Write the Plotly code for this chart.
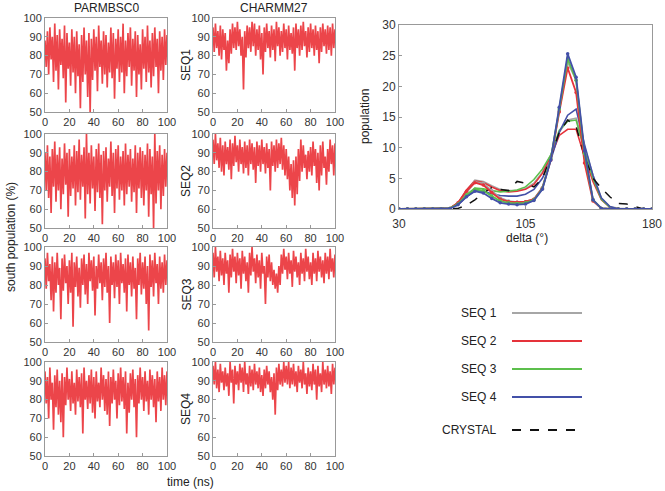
import plotly.graph_objects as go

W, H = 665, 491

# ---------------- data ----------------
time_ns = list(range(0, 101))

bsc0_seq1 = [88,74,93,70,95,78,90,66,97,72,91,62,94,75,89,68,96,55,92,73,
             87,64,94,71,90,60,93,69,86,52,91,66,95,70,88,58,92,50,89,67,
             94,72,90,61,96,74,88,65,93,70,91,63,87,71,95,68,92,57,89,73,
             94,66,90,71,97,60,88,69,92,74,95,64,89,72,93,58,91,70,86,62,
             94,73,90,66,96,71,88,63,92,69,95,74,89,60,93,72,90,67,94,75,91]
charmm_seq1 = [95,82,97,84,93,80,96,78,94,83,92,72,88,76,94,81,97,84,95,83,
               98,85,94,80,90,62,93,79,96,84,95,82,98,85,97,80,94,83,96,78,
               92,70,95,82,97,84,93,79,96,83,94,77,98,85,95,80,93,82,97,84,
               94,78,96,83,92,81,95,72,97,84,94,80,96,83,98,85,93,79,95,82,
               97,84,94,80,96,83,93,76,95,82,97,85,94,81,96,83,95,80,97,84,94]
bsc0_seq2 = [90,70,94,66,88,58,92,72,96,64,89,70,93,60,87,68,95,73,90,56,
             92,67,88,71,94,62,91,69,97,65,89,72,93,55,100,68,90,63,94,71,
             88,59,92,69,95,66,89,52,91,70,93,64,87,72,96,67,90,58,92,71,
             94,65,88,70,91,62,95,68,89,72,92,64,87,69,94,58,90,71,93,66,
             91,62,89,70,95,56,92,68,88,50,100,63,91,70,94,60,89,67,92,72,90]
charmm_seq2 = [97,84,100,86,95,82,98,80,94,78,96,84,93,81,97,76,95,83,99,85,
               94,80,97,84,93,79,96,82,94,78,97,84,95,81,93,74,96,83,94,80,
               97,84,93,79,95,82,92,70,96,83,94,80,97,82,95,84,98,81,94,78,
               92,76,88,70,84,66,86,62,88,68,92,75,97,80,94,82,89,76,91,80,
               93,78,96,83,92,74,90,70,94,78,96,82,88,73,92,80,97,84,94,78,95]
bsc0_seq3 = [94,78,97,82,91,72,95,66,92,76,97,80,89,62,94,77,96,81,90,70,
             93,76,97,58,92,79,95,74,89,68,94,80,96,75,91,70,97,82,93,77,
             95,64,90,78,96,81,92,72,94,79,97,76,90,60,95,80,92,73,96,79,
             93,70,97,81,91,76,94,66,96,80,92,74,95,78,89,62,94,80,97,75,
             92,78,95,70,90,56,96,79,93,74,97,81,91,70,95,78,92,76,96,80,93]
charmm_seq3 = [97,84,100,87,95,82,98,85,94,80,97,86,93,76,96,84,99,87,95,81,
               97,85,94,78,98,86,95,82,92,76,97,85,100,87,94,81,96,84,93,78,
               97,86,90,70,95,84,96,82,92,80,88,78,86,76,90,80,96,86,99,88,
               95,83,97,86,93,79,98,87,95,84,92,80,97,86,94,82,99,87,95,83,
               92,80,97,86,94,82,98,87,95,84,93,81,97,86,95,83,99,87,94,84,96]
bsc0_seq4 = [95,78,92,70,97,80,89,64,93,76,96,72,90,68,94,60,92,77,97,80,
             91,74,95,78,89,72,96,79,92,76,94,62,97,80,90,75,93,78,96,73,
             92,70,95,79,89,76,97,80,93,74,91,72,95,66,92,78,96,80,90,70,
             94,77,97,79,92,75,95,62,89,73,94,80,96,76,91,60,93,78,97,80,
             92,74,95,79,90,72,96,80,93,76,91,68,95,79,92,74,97,80,93,77,95]
charmm_seq4 = [98,88,100,86,96,84,99,89,95,85,97,87,94,82,100,89,96,78,98,88,
               95,85,99,89,97,84,100,88,94,83,98,87,96,85,99,88,95,86,97,84,
               93,82,96,86,98,88,95,84,92,80,94,72,97,85,99,88,96,87,100,89,
               98,88,100,86,97,88,99,87,95,84,98,89,96,86,100,88,94,83,97,87,
               95,85,99,88,96,80,98,87,94,84,100,88,96,86,98,87,95,83,99,88,97]

seq_labels = ["SEQ1", "SEQ2", "SEQ3", "SEQ4"]

delta_deg = list(range(30, 181, 5))
# set with markers (tall peak)
popA_seq1 = [0,0,0,0,0,0,0.1,0.9,2.6,4.4,4.2,3.0,1.8,1.3,1.1,1.2,1.6,3.5,8.2,16.0,24.0,21.0,9.0,1.5,0.1,0,0,0,0,0,0]
popA_seq2 = [0,0,0,0,0,0,0.1,1.0,2.9,4.3,3.9,2.7,1.6,1.2,1.1,1.2,1.6,3.4,8.0,15.8,23.0,19.0,7.5,1.3,0.1,0,0,0,0,0,0]
popA_seq3 = [0,0,0,0,0,0,0.1,0.8,2.3,3.2,3.0,2.1,1.3,1.0,0.9,1.0,1.5,3.3,8.2,16.3,24.5,21.0,9.0,1.5,0.1,0,0,0,0,0,0]
popA_seq4 = [0,0,0,0,0,0,0.05,0.7,2.0,2.9,2.6,1.7,1.0,0.8,0.7,0.8,1.4,3.2,8.0,16.6,25.3,21.5,9.5,1.5,0.1,0,0,0,0,0,0]
# set without markers (lower peak)
popB_seq1 = [0,0,0,0,0,0,0.1,1.0,3.0,4.7,4.5,3.8,3.2,3.0,3.0,3.3,4.2,6.0,8.8,12.5,14.5,14.8,10.0,5.5,1.8,0.4,0.1,0,0,0,0]
popB_seq2 = [0,0,0,0,0,0,0.1,1.0,3.1,4.6,4.3,3.6,3.0,2.8,2.9,3.2,4.0,5.8,8.5,12.0,13.0,13.0,8.5,4.5,1.5,0.3,0,0,0,0,0]
popB_seq3 = [0,0,0,0,0,0,0.1,0.8,2.3,3.4,3.3,3.0,2.8,2.9,3.1,3.6,4.8,6.5,8.8,12.8,14.3,14.5,9.5,5.0,1.6,0.3,0,0,0,0,0]
popB_seq4 = [0,0,0,0,0,0,0.1,0.7,2.0,3.0,2.9,2.5,2.2,2.1,2.1,2.4,3.2,5.0,8.0,12.5,15.3,16.3,10.5,5.5,1.8,0.4,0,0,0,0,0]
pop_crystal = [0,0,0,0,0,0,0,0.1,0.6,1.5,2.6,3.5,3.2,3.0,4.5,4.2,3.6,5.0,8.5,12.5,14.5,13.5,8.5,5.0,3.4,2.0,0.9,0.8,0.4,0,0]

legend_names = ["SEQ 1", "SEQ 2", "SEQ 3", "SEQ 4", "CRYSTAL"]
seq_colors = ["#a6a6a6", "#e5323a", "#5cbf4c", "#4350a8"]

# ---------------- figure ----------------
def px(x):
    return x / W

def py(y):
    return 1 - y / H

FONT = "Liberation Sans, Arial, sans-serif"
fig = go.Figure()
layout = dict(width=W, height=H, margin=dict(l=0, r=0, t=0, b=0, autoexpand=False),
              paper_bgcolor="white", plot_bgcolor="white", showlegend=False,
              font=dict(family=FONT, size=11, color="#222"))

cols = [(45, 167), (213, 335)]
rows = [(18, 112), (134, 228), (247, 342), (362, 456)]
series = [[bsc0_seq1, charmm_seq1], [bsc0_seq2, charmm_seq2],
          [bsc0_seq3, charmm_seq3], [bsc0_seq4, charmm_seq4]]

axis_common = dict(showgrid=False, zeroline=False, showline=True, mirror=True,
                   linecolor="#999999", linewidth=1, ticks="inside", ticklen=3,
                   tickcolor="#999999", automargin=False,
                   tickfont=dict(size=11, color="#333"))


def note(text, x, y, angle=0, xanchor="center"):
    return dict(text=text, x=px(x), y=py(y), xref="paper", yref="paper",
                xanchor=xanchor, yanchor="middle", showarrow=False, textangle=angle,
                font=dict(size=12, color="#222"))


annotations = []
idx = 0
for r, (top, bot) in enumerate(rows):
    for c, (left, right) in enumerate(cols):
        idx += 1
        sfx = "" if idx == 1 else str(idx)
        fig.add_trace(go.Scatter(x=time_ns, y=series[r][c], mode="lines",
                                 line=dict(color="rgba(232,28,34,0.82)", width=1.7),
                                 xaxis="x" + sfx, yaxis="y" + sfx,
                                 hoverinfo="skip"))
        layout["xaxis" + sfx] = dict(axis_common, domain=[px(left), px(right)],
                                     range=[0, 100], tickvals=[0, 20, 40, 60, 80, 100],
                                     anchor="y" + sfx)
        layout["yaxis" + sfx] = dict(axis_common, domain=[py(bot), py(top)],
                                     range=[50, 100], tickvals=[50, 60, 70, 80, 90, 100],
                                     anchor="x" + sfx)
    annotations.append(note(seq_labels[r], 186, (top + bot) / 2, angle=-90))

# right distribution plot
idx += 1
sfx = str(idx)
popA = [popA_seq1, popA_seq2, popA_seq3, popA_seq4]
popB = [popB_seq1, popB_seq2, popB_seq3, popB_seq4]
for i in range(4):
    fig.add_trace(go.Scatter(x=delta_deg, y=popB[i], mode="lines",
                             line=dict(color=seq_colors[i], width=1.6),
                             xaxis="x" + sfx, yaxis="y" + sfx, hoverinfo="skip"))
fig.add_trace(go.Scatter(x=delta_deg, y=pop_crystal, mode="lines",
                         line=dict(color="#111", width=1.5, dash="dash"),
                         xaxis="x" + sfx, yaxis="y" + sfx, hoverinfo="skip"))
for i in range(4):
    fig.add_trace(go.Scatter(x=delta_deg, y=popA[i], mode="lines+markers",
                             line=dict(color=seq_colors[i], width=1.8),
                             marker=dict(color=seq_colors[i], size=3.5),
                             xaxis="x" + sfx, yaxis="y" + sfx, hoverinfo="skip"))
layout["xaxis" + sfx] = dict(axis_common, domain=[px(399), px(652)], range=[30, 180],
                             tickvals=[30, 105, 180], anchor="y" + sfx,
                             ticklabelstandoff=4,
                             tickfont=dict(size=12, color="#333"))
layout["yaxis" + sfx] = dict(axis_common, domain=[py(209), py(25)], range=[0, 30],
                             tickvals=[0, 5, 10, 15, 20, 25, 30], anchor="x" + sfx,
                             tickfont=dict(size=12, color="#333"))

# titles and labels
annotations += [
    note("PARMBSC0", 106, 8),
    note("CHARMM27", 274, 8),
    note("south population (%)", 11, 237, angle=-90),
    note("time (ns)", 190, 482),
    note("population", 365, 117, angle=-90),
    note("delta (°)", 527, 238),
]

# legend drawn as text + line samples
shapes = []
leg_y = [313, 341, 369, 397, 430]
leg_col = seq_colors + ["#111"]
for i, name in enumerate(legend_names):
    annotations.append(note(name, 499, leg_y[i], xanchor="right"))
    shapes.append(dict(type="line", xref="paper", yref="paper",
                       x0=px(512), x1=px(582), y0=py(leg_y[i]), y1=py(leg_y[i]),
                       line=dict(color=leg_col[i], width=2,
                                 dash="solid" if i < 4 else "dash")))

layout["annotations"] = annotations
layout["shapes"] = shapes
fig.update_layout(**layout)
fig.write_html("out.html", config={"displayModeBar": False},
               post_script="document.body.style.margin='0';")
